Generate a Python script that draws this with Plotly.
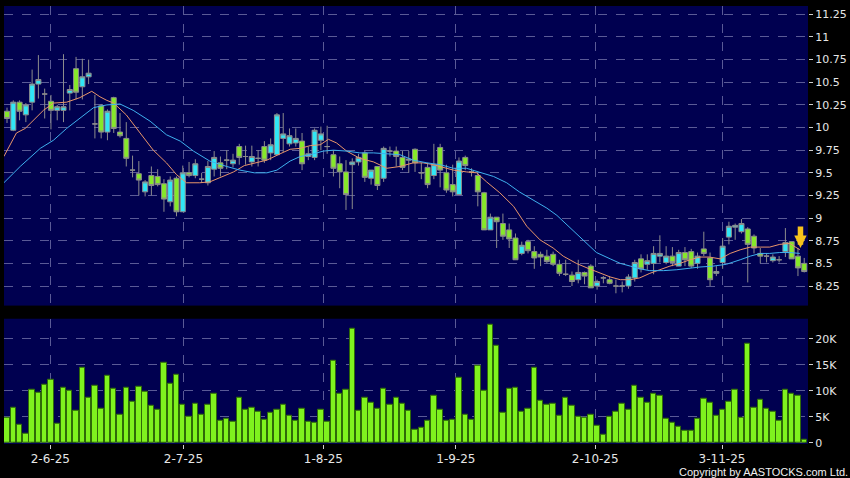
import plotly.graph_objects as go

# daily bars, index 0 = first session shown
opens = [10.18, 9.97, 10.28, 10.14, 10.28, 10.48, 10.37, 10.29, 10.19, 10.19,
         10.38, 10.65, 10.45, 10.56, 10.04, 10.24, 9.95, 10.33, 9.95, 9.88,
         9.53, 9.49, 9.29, 9.47, 9.46, 9.38, 9.18, 9.44, 9.07, 9.50,
         9.47, 9.43, 9.39, 9.54, 9.61, 9.64, 9.60, 9.79, 9.68, 9.62,
         9.66, 9.79, 9.72, 9.70, 9.88, 9.82, 9.83, 9.85, 9.68, 9.67,
         9.86, 9.79, 9.70, 9.60, 9.51, 9.59, 9.62, 9.72, 9.44, 9.57,
         9.44, 9.74, 9.74, 9.67, 9.64, 9.76, 9.50, 9.56, 9.47, 9.78,
         9.50, 9.37, 9.26, 9.67, 9.51, 9.47, 9.28, 8.87, 9.01, 8.94,
         8.87, 8.78, 8.61, 8.74, 8.63, 8.60, 8.58, 8.60, 8.49, 8.38,
         8.37, 8.32, 8.40, 8.47, 8.25, 8.34, 8.32, 8.25, 8.25, 8.25,
         8.34, 8.55, 8.49, 8.50, 8.58, 8.51, 8.58, 8.47, 8.62, 8.63,
         8.50, 8.66, 8.56, 8.39, 8.51, 8.79, 8.90, 8.85, 8.88, 8.80,
         8.61, 8.58, 8.53, 8.54, 8.63, 8.74, 8.58, 8.50]
highs = [10.22, 10.30, 10.30, 10.27, 10.64, 10.80, 10.43, 10.36, 10.25, 10.81,
         10.47, 10.78, 10.76, 10.75, 10.36, 10.26, 10.20, 10.34, 10.16, 10.06,
         9.69, 9.63, 9.42, 9.57, 9.54, 9.43, 9.46, 9.46, 9.58, 9.62,
         9.65, 9.50, 9.63, 9.74, 9.68, 9.75, 9.71, 9.82, 9.80, 9.80,
         9.75, 9.85, 9.88, 10.16, 10.16, 9.99, 9.99, 9.94, 9.79, 9.99,
         10.01, 10.02, 9.75, 9.68, 9.64, 9.66, 9.71, 9.74, 9.53, 9.57,
         9.79, 9.79, 9.79, 9.74, 9.74, 9.77, 9.61, 9.61, 9.82, 9.82,
         9.59, 9.59, 9.67, 9.69, 9.55, 9.51, 9.29, 9.05, 9.01, 9.05,
         8.94, 8.83, 8.74, 8.76, 8.69, 8.63, 8.65, 8.63, 8.54, 8.54,
         8.41, 8.54, 8.41, 8.49, 8.32, 8.36, 8.36, 8.32, 8.30, 8.38,
         8.54, 8.60, 8.60, 8.69, 8.81, 8.69, 8.68, 8.65, 8.68, 8.66,
         8.62, 8.85, 8.62, 8.47, 8.78, 8.96, 8.94, 8.99, 8.90, 8.82,
         8.67, 8.61, 8.60, 8.58, 8.89, 8.74, 8.67, 8.56]
lows = [10.05, 9.96, 10.08, 10.06, 10.19, 10.32, 10.10, 9.98, 10.08, 10.06,
        10.19, 10.31, 10.31, 10.48, 9.88, 9.88, 9.86, 9.94, 9.89, 9.57,
        9.45, 9.25, 9.24, 9.25, 9.35, 9.07, 9.13, 9.02, 9.07, 9.45,
        9.44, 9.39, 9.36, 9.46, 9.46, 9.54, 9.56, 9.59, 9.59, 9.57,
        9.57, 9.61, 9.64, 9.70, 9.73, 9.79, 9.79, 9.53, 9.64, 9.64,
        9.75, 9.71, 9.46, 9.33, 9.09, 9.10, 9.58, 9.40, 9.37, 9.31,
        9.40, 9.68, 9.57, 9.53, 9.50, 9.51, 9.43, 9.33, 9.43, 9.34,
        9.28, 9.24, 9.26, 9.53, 9.46, 9.13, 8.87, 8.87, 8.67, 8.76,
        8.67, 8.54, 8.59, 8.61, 8.44, 8.47, 8.50, 8.47, 8.36, 8.36,
        8.25, 8.28, 8.27, 8.23, 8.21, 8.28, 8.27, 8.17, 8.18, 8.22,
        8.30, 8.40, 8.43, 8.38, 8.51, 8.49, 8.47, 8.47, 8.47, 8.45,
        8.44, 8.58, 8.25, 8.36, 8.44, 8.71, 8.76, 8.83, 8.29, 8.61,
        8.50, 8.51, 8.51, 8.51, 8.57, 8.55, 8.36, 8.40]
closes = [10.10, 10.28, 10.18, 10.25, 10.48, 10.53, 10.37, 10.19, 10.23, 10.23,
          10.42, 10.39, 10.56, 10.60, 10.04, 9.95, 10.18, 9.99, 9.91, 9.66,
          9.53, 9.42, 9.40, 9.36, 9.37, 9.21, 9.42, 9.07, 9.50, 9.47,
          9.60, 9.43, 9.57, 9.67, 9.55, 9.64, 9.64, 9.67, 9.68, 9.68,
          9.66, 9.64, 9.81, 10.14, 9.93, 9.91, 9.88, 9.60, 9.71, 9.97,
          9.93, 9.79, 9.55, 9.51, 9.26, 9.62, 9.67, 9.45, 9.53, 9.36,
          9.77, 9.74, 9.68, 9.56, 9.65, 9.61, 9.50, 9.37, 9.59, 9.53,
          9.31, 9.29, 9.63, 9.58, 9.51, 9.29, 8.87, 9.01, 8.96, 8.80,
          8.77, 8.54, 8.70, 8.64, 8.56, 8.57, 8.52, 8.49, 8.39, 8.38,
          8.30, 8.40, 8.36, 8.23, 8.30, 8.34, 8.28, 8.25, 8.25, 8.35,
          8.51, 8.44, 8.53, 8.61, 8.61, 8.58, 8.51, 8.62, 8.54, 8.47,
          8.58, 8.61, 8.32, 8.41, 8.69, 8.91, 8.92, 8.94, 8.71, 8.67,
          8.58, 8.58, 8.57, 8.54, 8.73, 8.55, 8.45, 8.41]
volumes_k = [4.8, 6.7, 3.5, 1.8, 10.3, 9.6, 11.1, 12.2, 3.6, 10.6,
             10.0, 6.1, 14.4, 8.7, 11.0, 6.5, 13.0, 10.5, 5.5, 10.6,
             7.9, 10.8, 9.9, 7.2, 6.4, 15.4, 11.3, 13.1, 7.4, 5.1,
             7.6, 5.5, 7.3, 9.4, 4.2, 4.7, 4.1, 8.7, 6.3, 6.7,
             6.0, 4.5, 5.8, 6.4, 7.4, 5.3, 4.3, 6.5, 4.1, 3.8,
             6.3, 4.0, 15.8, 9.4, 10.3, 22.0, 6.1, 8.7, 7.7, 6.6,
             10.4, 7.3, 8.6, 7.6, 6.2, 2.5, 2.9, 4.2, 9.1, 6.3,
             4.2, 4.5, 12.5, 5.4, 4.5, 14.8, 10.0, 22.8, 18.7, 5.8,
             10.4, 10.6, 5.9, 6.5, 14.4, 8.2, 7.4, 7.6, 5.3, 8.7,
             7.2, 5.1, 4.9, 5.4, 3.3, 1.6, 5.1, 6.0, 7.6, 6.4,
             11.0, 8.6, 7.7, 9.4, 9.1, 4.7, 3.8, 3.1, 2.3, 2.3,
             4.6, 8.5, 7.8, 5.2, 6.3, 8.0, 10.3, 4.9, 19.0, 6.8,
             8.3, 6.5, 5.9, 4.3, 10.3, 9.4, 9.0, 0.6]

# moving averages at sample bars
ma_fast_x = [-0.5, 1.5, 2.9, 4.2, 5.8, 7.4, 9.5, 11.6, 13.5, 14.8, 15.9, 17, 19, 21.2,
             23.3, 25.4, 27, 28.6, 30.7, 32.3, 33.9, 36.1, 37.8, 39.4, 41.4, 43.5,
             45.1, 46.7, 48.3, 49.9, 51.2, 52.5, 54.1, 56.2, 58.4, 60.5, 62.6, 64.7,
             66.3, 67.9, 69.5, 71.1, 73.2, 74.8, 76.4, 78.5, 80.7, 82.8, 84.9, 87,
             88.6, 90.7, 92.4, 94.5, 96.1, 97.7, 99.3, 100.8, 102.4, 104, 105.6,
             107.2, 108.8, 110.4, 111.9, 113.6, 115.2, 116.8, 118.4, 120, 121.5,
             123.1, 124.7, 126.3]
ma_fast_y = [9.68, 9.94, 9.99, 10.08, 10.19, 10.27, 10.28, 10.33, 10.40, 10.34, 10.30,
             10.27, 10.14, 9.94, 9.75, 9.61, 9.48, 9.39, 9.39, 9.40, 9.45, 9.51, 9.58,
             9.61, 9.64, 9.71, 9.76, 9.77, 9.80, 9.81, 9.87, 9.83, 9.74, 9.66, 9.62,
             9.55, 9.57, 9.61, 9.61, 9.59, 9.56, 9.53, 9.51, 9.50, 9.40, 9.28, 9.13,
             8.91, 8.76, 8.67, 8.58, 8.50, 8.45, 8.39, 8.35, 8.32, 8.32, 8.34, 8.39,
             8.43, 8.47, 8.50, 8.54, 8.57, 8.57, 8.55, 8.61, 8.65, 8.68, 8.68, 8.68,
             8.71, 8.72, 8.65]
ma_slow_x = [-0.5, 2.1, 5.3, 7.4, 9.5, 11.6, 13.8, 15.9, 18, 20.1, 22.8, 25.4, 27.6,
             29.7, 32.3, 35, 37.1, 39.4, 41.4, 43, 45.1, 46.7, 48.3, 50.4, 52, 54.1,
             56.2, 58.4, 60.5, 62.6, 64.7, 66.9, 69, 71.1, 73.2, 75.4, 77.5, 79.6,
             81.6, 83.8, 86, 87.6, 89.7, 91.8, 93.9, 96.1, 97.7, 99.3, 100.8, 102.4,
             104.6, 106.7, 108.8, 110.4, 112.5, 114.6, 116.8, 118.4, 120, 121.5,
             123.1, 124.7, 126.3]
ma_slow_y = [9.39, 9.57, 9.77, 9.86, 9.99, 10.10, 10.22, 10.25, 10.26, 10.19, 10.07,
             9.92, 9.85, 9.74, 9.63, 9.57, 9.53, 9.50, 9.50, 9.53, 9.63, 9.68, 9.70,
             9.74, 9.75, 9.74, 9.72, 9.72, 9.71, 9.70, 9.64, 9.61, 9.59, 9.55, 9.55,
             9.50, 9.46, 9.39, 9.29, 9.20, 9.11, 9.03, 8.89, 8.76, 8.62, 8.55, 8.50,
             8.47, 8.44, 8.42, 8.42, 8.43, 8.45, 8.46, 8.47, 8.49, 8.54, 8.58, 8.61,
             8.61, 8.62, 8.62, 8.61]

date_ticks = [6.9, 28.1, 50.4, 71.5, 93.7, 113.9]
date_labels = ["2-6-25", "2-7-25", "1-8-25", "1-9-25", "2-10-25", "3-11-25"]
price_ticks = [8.25, 8.5, 8.75, 9, 9.25, 9.5, 9.75, 10, 10.25, 10.5, 10.75, 11, 11.25]
vol_ticks = [0, 5000, 10000, 15000, 20000]
vol_labels = ["0", "5K", "10K", "15K", "20K"]

signal_x = 126.4
signal_price = 8.67

NAVY = "#000050"
GRID = "#5a5a96"
CYAN = "#30e6f6"
GREEN = "#86e82a"
VOL_GREEN = "#7ff21e"

idx = list(range(len(closes)))
volumes = [v * 1000 for v in volumes_k]

fig = go.Figure()
fig.add_trace(go.Candlestick(
    x=idx, open=opens, high=highs, low=lows, close=closes,
    increasing=dict(fillcolor=CYAN, line=dict(color="#8c8c8c", width=1)),
    decreasing=dict(fillcolor=GREEN, line=dict(color="#8c8c8c", width=1)),
    whiskerwidth=0, xaxis="x", yaxis="y", showlegend=False,
))
fig.add_trace(go.Scatter(x=ma_fast_x, y=ma_fast_y, mode="lines",
                         line=dict(color="#e8956a", width=1), xaxis="x", yaxis="y",
                         showlegend=False))
fig.add_trace(go.Scatter(x=ma_slow_x, y=ma_slow_y, mode="lines",
                         line=dict(color="#3fb0ee", width=1), xaxis="x", yaxis="y",
                         showlegend=False))
fig.add_trace(go.Bar(x=idx, y=volumes, width=0.86,
                     marker=dict(color=VOL_GREEN, line=dict(color="#2f6a08", width=1)),
                     xaxis="x2", yaxis="y2", showlegend=False))

# yellow sell-signal arrow over the last sessions
fig.add_annotation(x=signal_x, y=signal_price, xref="x", yref="y",
                   ax=0, ay=-23, showarrow=True, arrowhead=2, arrowsize=0.45,
                   arrowwidth=5.5, arrowcolor="#f6c21c", text="")

axis_common = dict(showgrid=True, gridcolor=GRID, griddash="dash", gridwidth=1,
                   zeroline=False, showline=False, automargin=False)

fig.update_layout(
    width=850, height=478,
    margin=dict(l=4, r=42, t=6, b=33.5),
    paper_bgcolor="black", plot_bgcolor=NAVY,
    font=dict(family="DejaVu Sans", size=11, color="#e6e6e6"),
    boxgap=0.2, boxgroupgap=0,
    xaxis=dict(domain=[0, 1], range=[-0.48, 127.6], tickvals=date_ticks,
               showticklabels=False, rangeslider=dict(visible=False),
               anchor="y", **axis_common),
    yaxis=dict(domain=[0.316, 1], range=[8.034, 11.342], side="right",
               tickvals=price_ticks, ticks="outside", ticklen=4,
               tickcolor="#cfcfcf", anchor="x", **axis_common),
    xaxis2=dict(domain=[0, 1], range=[-0.48, 127.6], tickvals=date_ticks,
                ticktext=date_labels, ticks="outside", ticklen=4,
                tickcolor="#cfcfcf", tickfont=dict(size=12), anchor="y2",
                **axis_common),
    yaxis2=dict(domain=[0, 0.286], range=[-230, 23900], side="right",
                tickvals=vol_ticks, ticktext=vol_labels, ticks="outside",
                ticklen=4, tickcolor="#cfcfcf", anchor="x2", **axis_common),
    bargap=0,
)

fig.add_annotation(text="Copyright by AASTOCKS.com Ltd.", xref="paper", yref="paper",
                   x=1.052, y=-0.064, xanchor="right", yanchor="middle",
                   showarrow=False, font=dict(family="Liberation Sans", size=11,
                                              color="#f0f0f0"))

fig.write_html("out.html", config={"displayModeBar": False},
               post_script="document.body.style.margin='0';")
